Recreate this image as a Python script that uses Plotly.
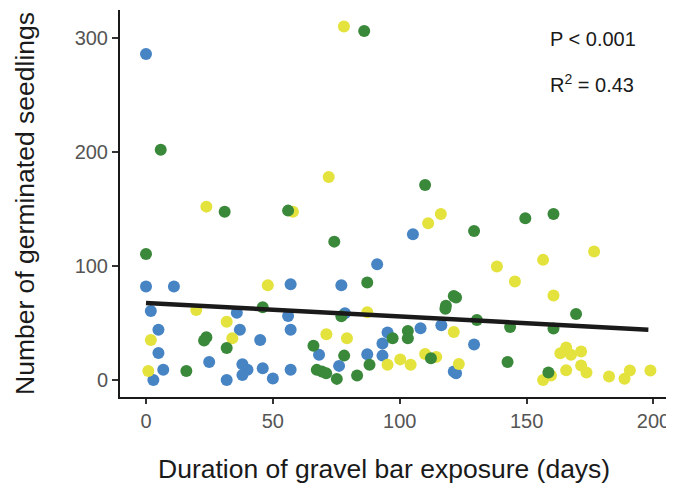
import plotly.graph_objects as go

# Blue group
blue_x = [0, 0, 11, 57, 1.9, 35.8, 56, 4.9, 37, 57, 45, 4.9, 24.9, 6.8, 38, 40, 38, 46, 57, 2.9, 31.8, 50,
          105.2, 91.1, 77, 78.4, 95.2, 108.2, 116.4, 129.3, 93.2, 68.2, 87.2, 93.2, 76.1, 121.3, 122.2]
blue_y = [286, 82, 82, 84, 60.5, 59, 56, 44, 44, 44, 35, 23.7, 15.8, 9, 13.7, 9, 4.4, 10.2, 9, 0, 0, 1.2,
          127.8, 101.5, 83, 58.5, 41.5, 45.3, 48, 31, 32, 22, 22.5, 21.3, 12.3, 7.3, 5.8]

# Green group
green_x = [5.8, 86, 110, 31, 56, 0, 46, 23.8, 22.9, 31.8, 15.9, 74.2, 129.3, 87.2, 121.3, 122.2, 118.2, 118,
           77, 130.4, 97.2, 103.2, 103.2, 66, 78.1, 112.3, 88.1, 67.3, 69.3, 71, 75.2, 83.2, 149.5, 160.6,
           169.5, 143.5, 160.6, 142.5, 158.6]
green_y = [202, 306, 171, 147.6, 148.5, 110.5, 63.7, 37.4, 34.5, 28, 7.9, 121.3, 130.7, 85.4, 73.7, 72.2, 65, 62.5,
           55.8, 52.6, 36.5, 43, 36.5, 30, 21.3, 19, 13.2, 8.8, 7.3, 5.8, 0.9, 3.8, 141.8, 145.6,
           57.9, 46.5, 45, 15.8, 6.4]

# Yellow group
yellow_x = [78, 72, 23.8, 57.9, 48, 19.8, 31.8, 1.9, 34, 0.9, 116.2, 111.2, 87.2, 71.1, 79.2, 121.3, 110, 114.4,
            100.2, 104.3, 95.2, 123.3, 176.6, 138.3, 156.5, 145.4, 160.6, 165.6, 163.3, 167.5, 171.5, 171.5,
            173.6, 165.6, 156.5, 159.6, 182.5, 190.7, 188.6, 198.8]
yellow_y = [310, 178, 152, 147.6, 83, 61.4, 51, 35, 36.5, 7.9, 145.6, 137.4, 59.4, 40, 36.5, 42, 22.8, 20.2,
            18, 13.2, 13.2, 14, 112.6, 99.4, 105.3, 86.3, 74, 28.4, 23.4, 22, 24.9, 12.6,
            6.4, 8.5, 0, 3.8, 2.9, 8.2, 1.1, 8.2]

# Fitted regression line
fit_x = [0, 198]
fit_y = [67.5, 44]

x_ticks = [0, 50, 100, 150, 200]
y_ticks = [0, 100, 200, 300]

marker_size = 12
fig = go.Figure()
fig.add_trace(go.Scatter(x=blue_x, y=blue_y, mode="markers", name="Blue",
                         marker=dict(color="#4784C4", size=marker_size, line=dict(width=0))))
fig.add_trace(go.Scatter(x=yellow_x, y=yellow_y, mode="markers", name="Yellow",
                         marker=dict(color="#E4E23C", size=marker_size, line=dict(width=0))))
fig.add_trace(go.Scatter(x=green_x, y=green_y, mode="markers", name="Green",
                         marker=dict(color="#3A883A", size=marker_size, line=dict(width=0))))
fig.add_trace(go.Scatter(x=fit_x, y=fit_y, mode="lines", name="Fit",
                         line=dict(color="#1a1a1a", width=4.5)))

font_family = "Liberation Sans, Arial, sans-serif"
fig.update_layout(
    width=666, height=475,
    margin=dict(l=112, r=0, t=2, b=85.5),
    paper_bgcolor="white", plot_bgcolor="white",
    showlegend=False,
    font=dict(family=font_family, color="#1a1a1a"),
    xaxis=dict(range=[-10.25, 208.1], tickvals=x_ticks, ticks="outside", ticklen=5, tickwidth=1.5,
               tickcolor="#333", showline=True, linecolor="#1a1a1a", linewidth=2, showgrid=False,
               zeroline=False, tickfont=dict(size=20, color="#555")),
    yaxis=dict(range=[-15, 324.5], tickvals=y_ticks, ticks="outside", ticklen=6, tickwidth=1.5,
               tickcolor="#333", showline=True, linecolor="#1a1a1a", linewidth=2, showgrid=False,
               zeroline=False, tickfont=dict(size=20, color="#555"),
               title=dict(text="Number of germinated seedlings", font=dict(size=26.5, color="#1a1a1a"),
                          standoff=32)),
    annotations=[
        dict(text="Duration of gravel bar exposure (days)", xref="paper", yref="paper", x=0.4774, y=-0.187,
             xanchor="center", yanchor="middle", showarrow=False, font=dict(size=26.5, color="#1a1a1a")),
        dict(text="P < 0.001", xref="paper", yref="paper", x=0.772, y=0.926, xanchor="left",
             yanchor="middle", showarrow=False, font=dict(size=20, color="#1a1a1a")),
        dict(text="R<sup>2</sup> = 0.43", xref="paper", yref="paper", x=0.772, y=0.811, xanchor="left",
             yanchor="middle", showarrow=False, font=dict(size=20, color="#1a1a1a")),
    ],
)

fig.write_html("out.html")
